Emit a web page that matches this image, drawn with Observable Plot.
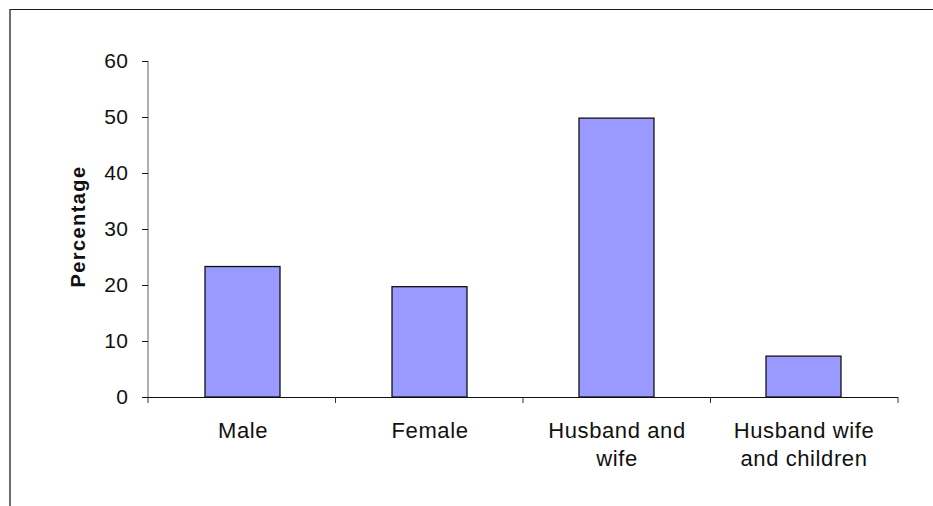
<!DOCTYPE html>
<html>
<head>
<meta charset="utf-8">
<script src="https://cdn.jsdelivr.net/npm/d3@7"></script>
<script src="https://cdn.jsdelivr.net/npm/@observablehq/plot@0.6"></script>
<style>
  html, body { margin: 0; padding: 0; background: #fff; overflow: hidden; }
  #wrap { position: relative; width: 933px; height: 506px; overflow: hidden; }
  #border { position: absolute; left: 9px; top: 9px; width: 1000px; height: 600px;
            border-top: 1px solid #1a1a1a; border-left: 2px solid #6e6e6e; box-sizing: border-box; }
  #chart { position: absolute; left: 0; top: 0; }
  #chart svg { font-family: "Liberation Sans", Arial, sans-serif; }
</style>
</head>
<body>
<div id="wrap">
  <div id="border"></div>
  <div id="chart"></div>
</div>
<script>
// Household composition, share of respondents (%)
const categories = ["Male", "Female", "Husband and\nwife", "Husband wife\nand children"];
const percentages = [23.3, 19.7, 49.8, 7.3];
const yTicks = [0, 10, 20, 30, 40, 50, 60];
const yLabel = "Percentage";

const rows = categories.map((category, i) => ({category, value: percentages[i]}));

// Vertical axis line plus short ticks below the baseline at each category boundary
function axisFrame(index, scales, values, dimensions) {
  const {width, marginLeft, marginRight} = dimensions;
  const y = scales.y;
  const left = marginLeft, right = width - marginRight;
  const n = categories.length;
  const g = d3.create("svg:g");
  g.append("line")
    .attr("x1", left).attr("x2", left)
    .attr("y1", y(d3.max(yTicks))).attr("y2", y(0))
    .attr("stroke", "#7a7a7a").attr("stroke-width", 1.2);
  const bounds = d3.range(n + 1).map(i => left + i * (right - left) / n);
  g.selectAll("line.tick").data(bounds).join("line")
    .attr("class", "tick")
    .attr("x1", d => d).attr("x2", d => d)
    .attr("y1", y(0)).attr("y2", y(0) + 6)
    .attr("stroke", "#333").attr("stroke-width", 1);
  return g.node();
}

const chart = Plot.plot({
  width: 933,
  height: 506,
  marginLeft: 148,
  marginRight: 35,
  marginTop: 61,
  marginBottom: 109,
  style: {background: "transparent", overflow: "visible"},
  x: {domain: categories, paddingInner: 0.6, paddingOuter: 0.3, axis: null},
  y: {domain: [0, 60], axis: null},
  marks: [
    Plot.barY(rows, {x: "category", y: "value", fill: "#9999ff", stroke: "#111", strokeWidth: 1.3}),
    Plot.ruleY([0], {stroke: "#111", strokeWidth: 1.2}),
    axisFrame,
    Plot.axisY(yTicks, {
      tickSize: 6, tickPadding: 14, fontSize: 21, stroke: "#111",
      fill: "#111", label: null
    }),
    Plot.text(categories, {
      x: d => d, frameAnchor: "bottom", lineAnchor: "top", dy: 21,
      fontSize: 22, lineHeight: 1.25, fill: "#111"
    }),
    Plot.text([yLabel], {
      frameAnchor: "left", rotate: -90, dx: -70, dy: -3,
      fontSize: 20, fontWeight: "bold", fill: "#111", textAnchor: "middle", lineAnchor: "middle"
    })
  ]
});

// Slightly loose tracking on the labels
const sel = d3.select(chart);
sel.selectAll('g[aria-label="y-axis tick label"] text').attr("letter-spacing", "0.5px");
sel.selectAll('g[aria-label="text"]').each(function (d, i) {
  d3.select(this).selectAll("text").attr("letter-spacing", i === 0 ? "0.6px" : "1.4px");
});

document.getElementById("chart").appendChild(chart);
</script>
</body>
</html>
